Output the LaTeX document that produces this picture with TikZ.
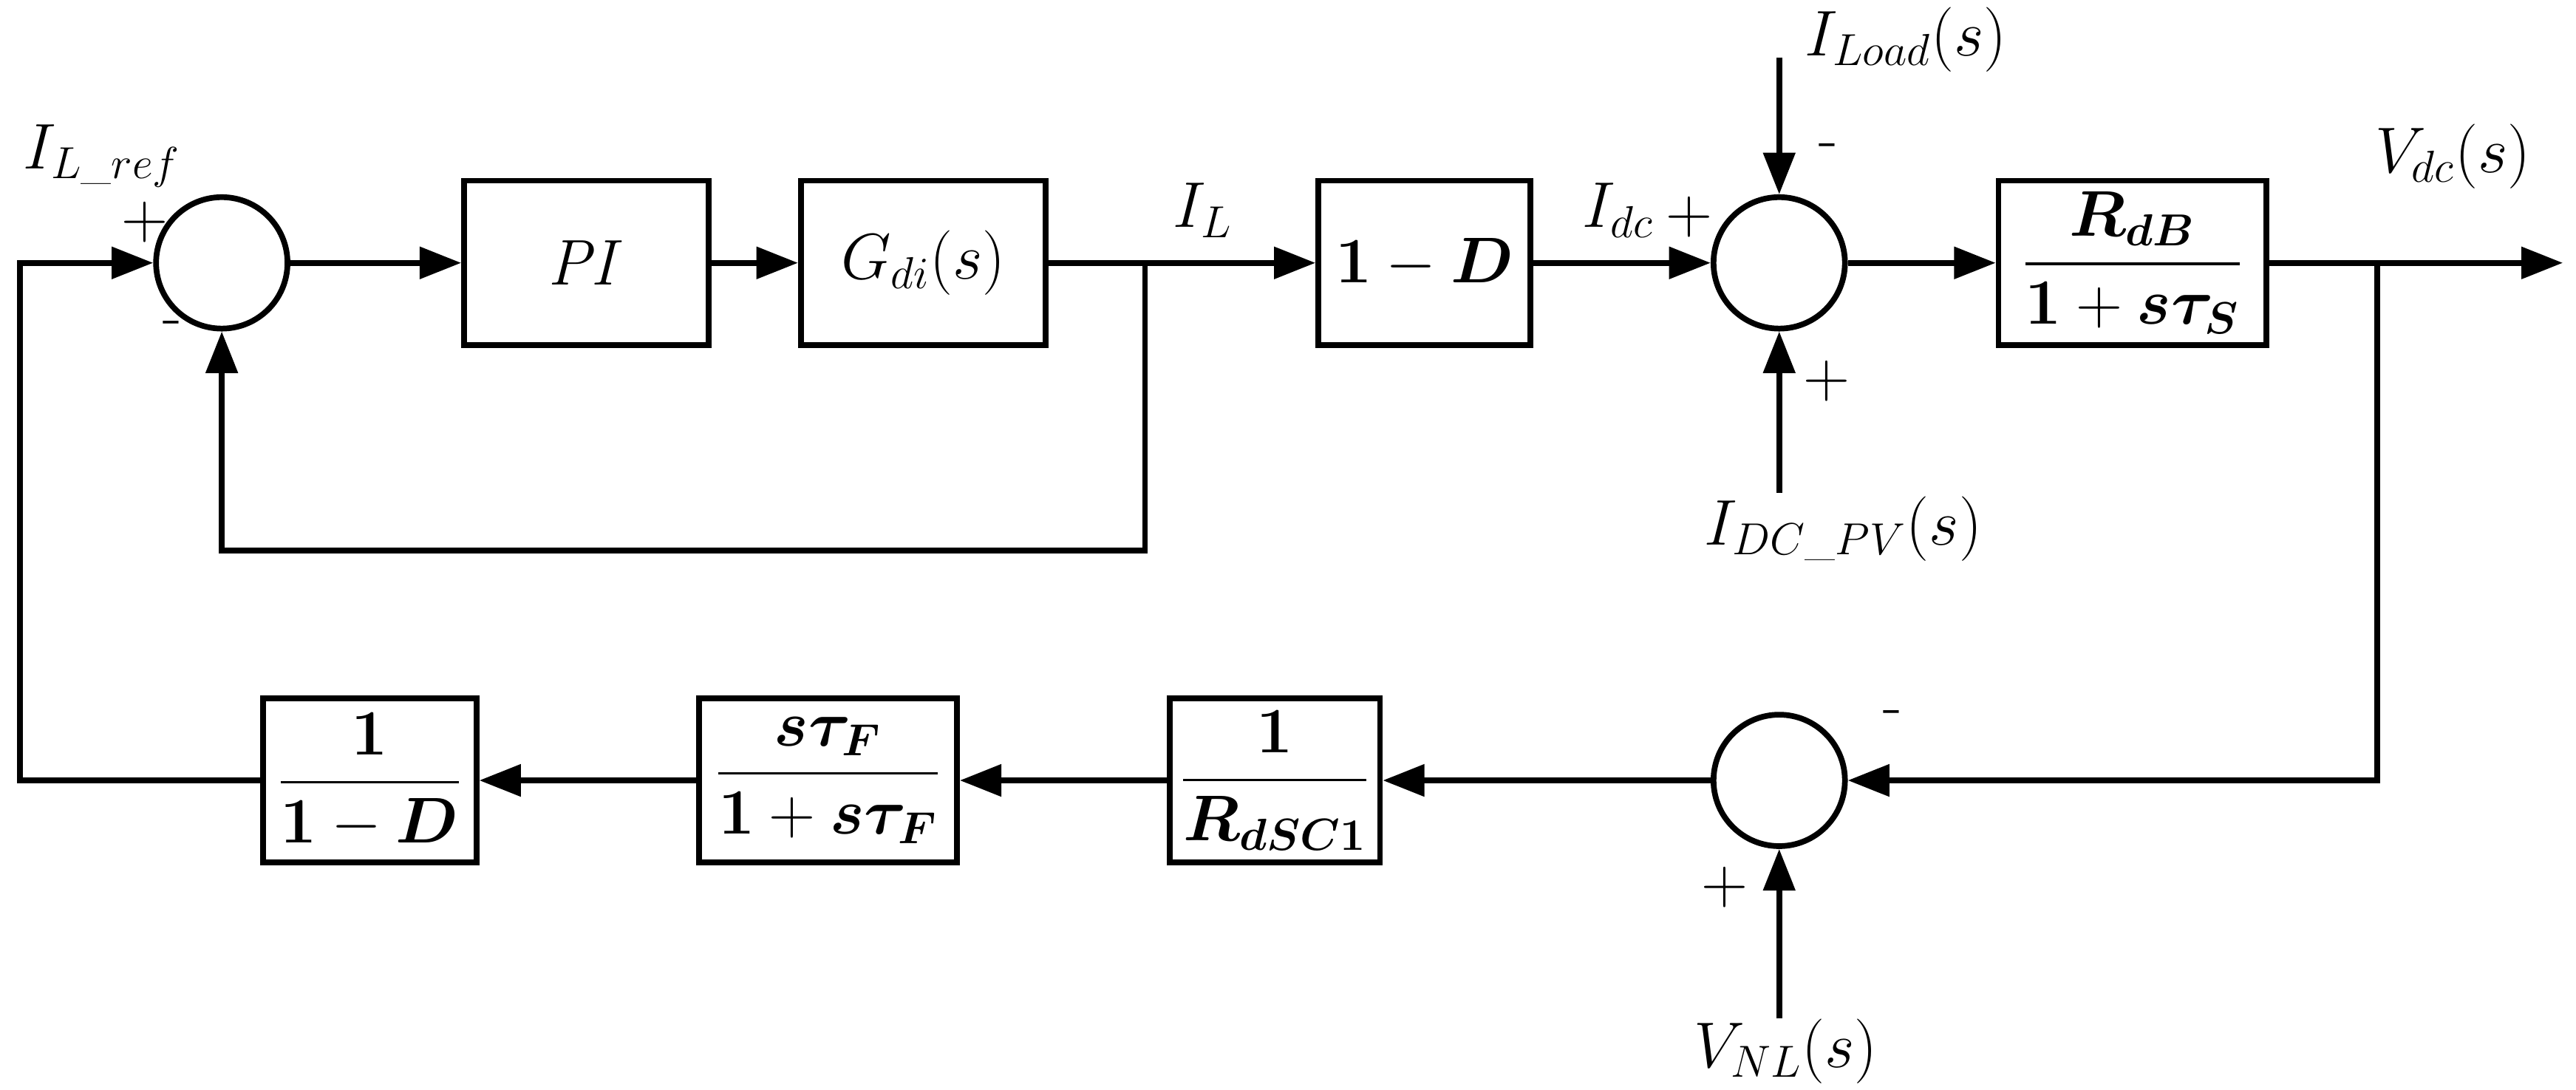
\documentclass[tikz,border=0pt]{standalone}
\usepackage{amsmath,bm}
\usetikzlibrary{arrows.meta}
\begin{document}
\begin{tikzpicture}[x=0.02223cm,y=-0.02223cm,line width=2.2pt,
  blk/.style={draw,rectangle,minimum width=#1*0.02223cm,minimum height=100*0.02223cm,inner sep=0pt,font=\fontsize{24}{28}\selectfont},
  sum/.style={draw,circle,minimum size=80*0.02223cm,inner sep=0pt},
  lbl/.style={font=\fontsize{24}{28}\selectfont},
  ar/.style={-{Triangle[length=16pt,width=12pt]}}]
\useasboundingbox (0,0) rectangle (1568,663);
\node[sum] (s1) at (135,160) {};
\node[blk=149] (pi) at (357,160) {$\mathit{PI}$};
\node[blk=149] (g) at (562,160) {$G_{di}(s)$};
\node[blk=129] (d) at (867,160) {$\mathbf{1}-\bm{D}$};
\node[sum] (s2) at (1083,160) {};
\node[blk=163] (r) at (1298,160) {$\dfrac{\bm{R}_{\bm{dB}}}{\mathbf{1}+\bm{s\tau_S}}$};
\node[sum] (s3) at (1083,475) {};
\node[blk=128] (rsc) at (776,475) {$\dfrac{\mathbf{1}}{\bm{R}_{\bm{dSC}\mathbf{1}}}$};
\node[blk=157] (tf) at (504,475) {$\dfrac{\bm{s\tau_F}}{\mathbf{1}+\bm{s\tau_F}}$};
\node[blk=130] (inv) at (225,475) {$\dfrac{\mathbf{1}}{\mathbf{1}-\bm{D}}$};
\coordinate (b1) at (697,160);
\coordinate (b2) at (1447,160);
\coordinate (out) at (1560,160);
\coordinate (il) at (1083,35);
\coordinate (ipv) at (1083,300);
\coordinate (vnl) at (1083,620);
\coordinate (lft) at (12,475);
\draw[ar] (s1) -- (pi);
\draw[ar] (pi) -- (g);
\draw[ar] (g) -- (d);
\draw[ar] (d) -- (s2);
\draw[ar] (s2) -- (r);
\draw[ar] (r) -- (out);
\draw[ar] (b1) |- (135,335) -- (s1.south);
\draw[ar] (il) -- (s2.north);
\draw[ar] (ipv) -- (s2.south);
\draw[ar] (b2) |- (s3);
\draw[ar] (vnl) -- (s3.south);
\draw[ar] (s3) -- (rsc);
\draw[ar] (rsc) -- (tf);
\draw[ar] (tf) -- (inv);
\draw[ar] (inv.west) -- (lft) |- (s1.west);
\node[lbl] (t1) at (62,95) {$I_{L\_ref}$};
\node[lbl] (t2) at (88,135) {$+$};
\node[lbl] (t3) at (105,200) {-};
\node[lbl] (t4) at (732,128) {$I_L$};
\node[lbl] (t5) at (985,128) {$I_{dc}$};
\node[lbl] (t6) at (1028,132) {$+$};
\node[lbl] (t7) at (1113,92) {-};
\node[lbl] (t8) at (1112,232) {$+$};
\node[lbl] (t9) at (1160,24) {$I_{Load}(s)$};
\node[lbl] (t10) at (1122,322) {$I_{DC\_PV}(s)$};
\node[lbl] (t11) at (1493,95) {$V_{dc}(s)$};
\node[lbl] (t12) at (1152,437) {-};
\node[lbl] (t13) at (1050,540) {$+$};
\node[lbl] (t14) at (1087,640) {$V_{NL}(s)$};
\end{tikzpicture}
\end{document}
